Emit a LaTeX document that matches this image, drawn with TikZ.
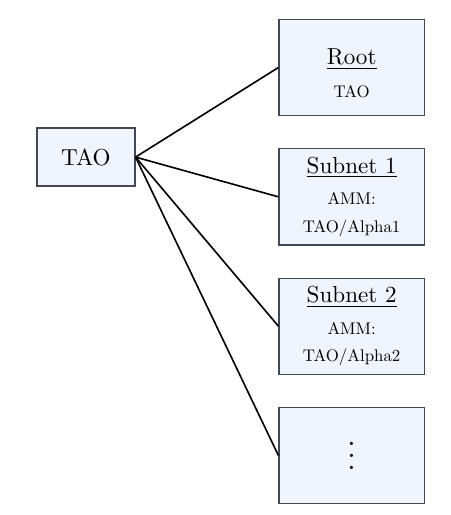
\documentclass[tikz,border=0pt]{standalone}
\usepackage{xcolor}
\usepackage{tikz}
\usetikzlibrary{positioning}
\definecolor{boxfill}{RGB}{240,244,252}
\definecolor{boxline}{RGB}{66,72,84}
\font\subfnt="[lmroman10-regular]:+tlig;" at 7.3pt
\newcommand{\subfont}{\fontsize{7.3}{9.8}\selectfont\subfnt}

\begin{document}
\begin{tikzpicture}[
    node distance=13.85pt,
    token/.style={rectangle, draw=boxline, fill=boxfill, line width=0.55pt, minimum width=42.4pt, minimum height=25.1pt, align=center},
    net/.style={rectangle, draw=boxline, fill=boxfill, line width=0.55pt, minimum width=62.8pt, minimum height=41.6pt, align=center},
    link/.style={line width=0.7pt}
]
    \useasboundingbox (0,0) rectangle (194.8pt,-222.9pt);

    % Left: the token
    \node[token] (tao) at (37.2pt,-68pt) {TAO};

    % Right: root and subnets
    \node[net] (root) at (152.2pt,-29.2pt) {\rule{0pt}{12pt}\underline{Root}\\[2pt]\subfont TAO};
    \node[net, below=of root] (sub1) {\underline{Subnet 1}\\[1.7pt]\subfont AMM:\\\subfont TAO/Alpha1};
    \node[net, below=of sub1] (sub2) {\underline{Subnet 2}\\[1.7pt]\subfont AMM:\\\subfont TAO/Alpha2};
    \node[net, below=of sub2] (more) {\smash{\raisebox{-5.9pt}{\scalebox{1.3}{$\vdots$}}}};

    % Links from the token
    \draw[link] (tao.east) -- (root.west);
    \draw[link] (tao.east) -- (sub1.west);
    \draw[link] (tao.east) -- (sub2.west);
    \draw[link] (tao.east) -- (more.west);

\end{tikzpicture}
\end{document}
